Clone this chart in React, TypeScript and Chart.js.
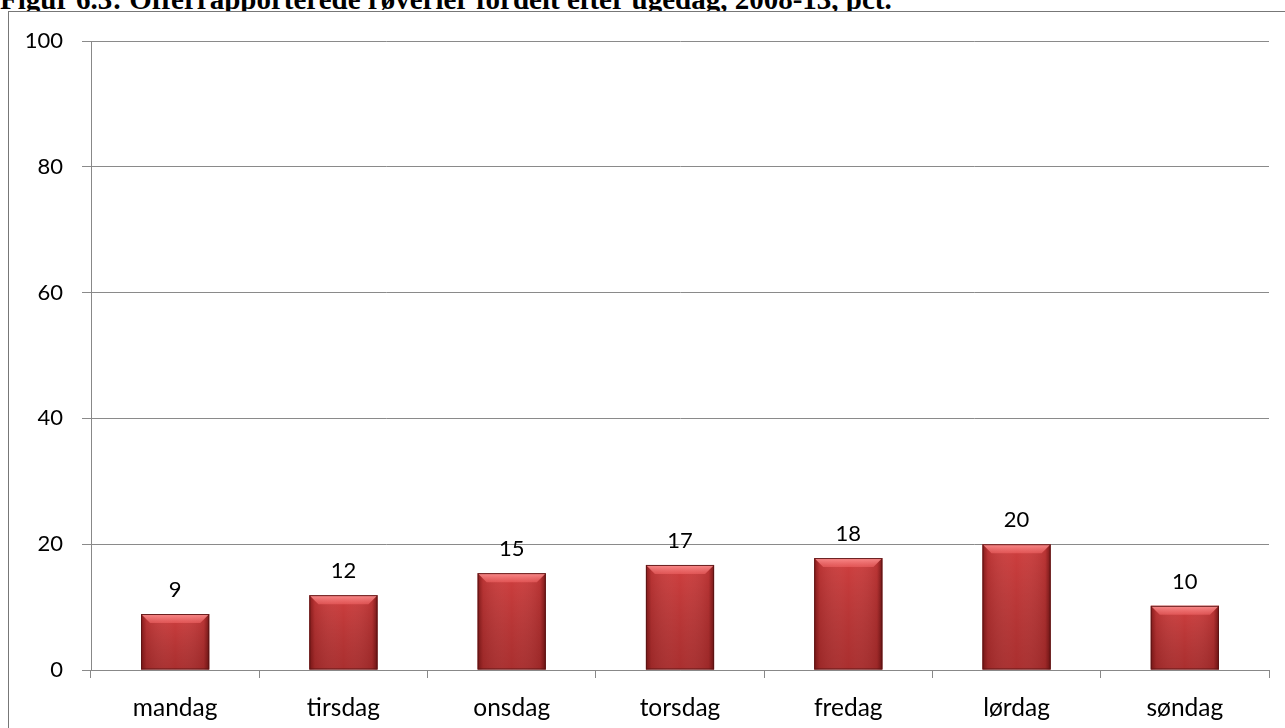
import React, { useEffect, useRef } from "react";
import { Chart, registerables } from "chart.js";

Chart.register(...registerables);

const title = "Figur 6.3: Offerrapporterede røverier fordelt efter ugedag, 2008-13, pct.";
const categories = ["mandag", "tirsdag", "onsdag", "torsdag", "fredag", "lørdag", "søndag"];
const values = [8.9, 11.9, 15.4, 16.7, 17.8, 20.0, 10.2];
const valueLabels = ["9", "12", "15", "17", "18", "20", "10"];
const yTicks = [0, 20, 40, 60, 80, 100];

const FONT = "Lato";

const bevelPlugin = {
  id: "bevelAndLabels",
  afterDatasetsDraw(chart: any) {
    const ctx = chart.ctx as CanvasRenderingContext2D;
    const meta = chart.getDatasetMeta(0);
    meta.data.forEach((bar: any, i: number) => {
      const { x, y, base, width } = bar.getProps(["x", "y", "base", "width"], true);
      const l = x - width / 2;
      const r = x + width / 2;
      const h = base - y;
      ctx.save();
      const g = ctx.createLinearGradient(l, 0, r, 0);
      g.addColorStop(0, "rgba(80,0,0,0.55)");
      g.addColorStop(0.08, "rgba(80,0,0,0.15)");
      g.addColorStop(0.5, "rgba(255,255,255,0)");
      g.addColorStop(0.92, "rgba(80,0,0,0.15)");
      g.addColorStop(1, "rgba(60,0,0,0.6)");
      ctx.fillStyle = g;
      ctx.fillRect(l, y, width, h);
      const gv = ctx.createLinearGradient(0, y, 0, base);
      gv.addColorStop(0, "rgba(0,0,0,0)");
      gv.addColorStop(1, "rgba(60,0,0,0.25)");
      ctx.fillStyle = gv;
      ctx.fillRect(l, y, width, h);
      const bv = Math.min(9, h / 3);
      ctx.beginPath();
      ctx.moveTo(l, y);
      ctx.lineTo(r, y);
      ctx.lineTo(r - bv, y + bv);
      ctx.lineTo(l + bv, y + bv);
      ctx.closePath();
      const gt = ctx.createLinearGradient(0, y, 0, y + bv);
      gt.addColorStop(0, "rgba(255,150,150,0.9)");
      gt.addColorStop(1, "rgba(240,100,100,0.6)");
      ctx.fillStyle = gt;
      ctx.fill();
      ctx.strokeStyle = "rgba(90,20,20,0.9)";
      ctx.lineWidth = 1;
      ctx.strokeRect(l + 0.5, y + 0.5, width - 1, h - 1);
      ctx.fillStyle = "#000";
      ctx.font = `22px ${FONT}`;
      ctx.textAlign = "center";
      ctx.textBaseline = "alphabetic";
      ctx.fillText(valueLabels[i], x, y - 17);
      ctx.restore();
    });
  },
};

export default function App() {
  const ref = useRef<HTMLCanvasElement>(null);
  useEffect(() => {
    if (!ref.current) return;
    const chart = new Chart(ref.current, {
      type: "bar",
      data: {
        labels: categories,
        datasets: [
          {
            data: values,
            backgroundColor: "#CF3E3E",
            borderWidth: 0,
            barPercentage: 0.405,
            categoryPercentage: 1,
          },
        ],
      },
      options: {
        animation: false,
        responsive: false,
        maintainAspectRatio: false,
        layout: { padding: { left: 0, right: 16, top: 41, bottom: 0 } },
        plugins: { legend: { display: false }, tooltip: { enabled: false } },
        scales: {
          x: {
            offset: true,
            grid: {
              offset: true,
              drawOnChartArea: false,
              drawTicks: true,
              tickLength: 8,
              color: "#888",
              lineWidth: 1,
            },
            border: { color: "#888", width: 1 },
            ticks: { color: "#000", font: { family: FONT, size: 24.5 }, padding: 15 },
            afterFit(scale: any) {
              scale.height = 58;
            },
          },
          y: {
            min: 0,
            max: 100,
            afterBuildTicks(scale: any) {
              scale.ticks = yTicks.map((v) => ({ value: v }));
            },
            grid: { color: "#8a8a8a", lineWidth: 1, tickLength: 9 },
            border: { color: "#888", width: 1 },
            ticks: { color: "#000", font: { family: FONT, size: 22 }, padding: 19 },
            afterFit(scale: any) {
              scale.width = 91;
            },
          },
        },
      },
      plugins: [bevelPlugin],
    });
    return () => chart.destroy();
  }, []);

  return (
    <div style={{ position: "absolute", left: 0, top: 0, width: 1285, height: 728, overflow: "hidden", background: "#fff" }}>
      <div
        style={{
          position: "absolute",
          left: 0,
          top: -15,
          fontFamily: "'Liberation Serif', 'Times New Roman', serif",
          fontWeight: "bold",
          fontSize: 29,
          lineHeight: "29px",
          whiteSpace: "nowrap",
          color: "#000",
        }}
      >
        {title}
      </div>
      <div
        style={{
          position: "absolute",
          left: 8,
          top: 11,
          width: 1400,
          height: 800,
          borderLeft: "1px solid #777",
          borderTop: "1px solid #777",
          background: "#fff",
        }}
      />
      <canvas ref={ref} width={1285} height={728} style={{ position: "absolute", left: 0, top: 0 }} />
    </div>
  );
}
